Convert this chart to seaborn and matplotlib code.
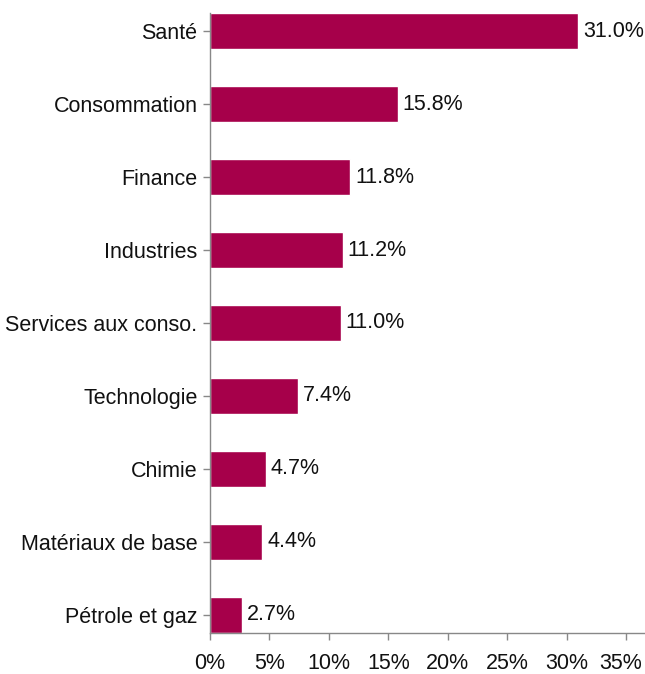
import seaborn as sns
import matplotlib.pyplot as plt
import matplotlib.transforms as mtransforms
import pandas as pd
from matplotlib.ticker import FuncFormatter

secteurs = ['Santé', 'Consommation', 'Finance', 'Industries', 'Services aux conso.',
            'Technologie', 'Chimie', 'Matériaux de base', 'Pétrole et gaz']
poids = [31.0, 15.8, 11.8, 11.2, 11.0, 7.4, 4.7, 4.4, 2.7]

df = pd.DataFrame({'secteur': secteurs, 'poids': poids})

sns.set_style('white')
plt.rcParams['font.family'] = ['Liberation Sans', 'DejaVu Sans']

fig = plt.figure(figsize=(6.45, 6.74), dpi=100)
ax = fig.add_axes([210 / 645, 1 - 633 / 674, 1 - 210 / 645, (633 - 13) / 674])

sns.barplot(data=df, x='poids', y='secteur', orient='h', color='#A6004A',
            width=0.5, saturation=1, ax=ax)

for i, v in enumerate(poids):
    ax.text(v + 0.4, i, f'{v:.1f}%', va='center', ha='left', fontsize=15.5, color='#111111')

ax.set_xlim(0, 36.6)
ax.set_ylim(8.25, -0.25)
ax.set_xticks(range(0, 40, 5))
ax.xaxis.set_major_formatter(FuncFormatter(lambda x, _: f'{x:.0f}%'))
ax.set_xlabel('')
ax.set_ylabel('')

for s in ['top', 'right']:
    ax.spines[s].set_visible(False)
for s in ['left', 'bottom']:
    ax.spines[s].set_color('#888888')
    ax.spines[s].set_linewidth(1)

ax.tick_params(axis='x', bottom=True, length=5, width=1, color='#888888',
               labelsize=15.5, pad=9.5, labelcolor='#111111')
ax.tick_params(axis='y', left=True, length=5, width=1, color='#888888',
               labelsize=15.5, pad=4, labelcolor='#111111')

# nudge the last x label so it stays inside the figure
last = ax.get_xticklabels()[-1]
last.set_transform(last.get_transform() + mtransforms.ScaledTranslation(-5 / 100, 0, fig.dpi_scale_trans))

fig.savefig('out.png', dpi=100)
